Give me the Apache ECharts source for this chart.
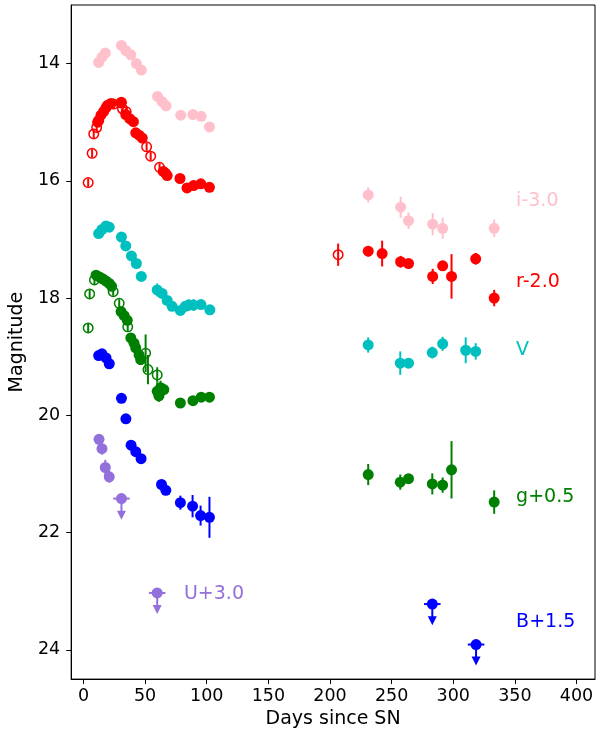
<!DOCTYPE html>
<html>
<head>
<meta charset="utf-8">
<script src="https://cdn.jsdelivr.net/npm/echarts@6/dist/echarts.min.js"></script>
<style>
  html, body { margin: 0; padding: 0; background: #fff; }
  #chart { width: 597px; height: 734px; }
</style>
</head>
<body>
<div id="chart"></div>
<script>
// Light curves: [days since SN, magnitude (offset applied), 1-sigma error]
const iFilled = [
  [12.3, 13.98, 0], [15.0, 13.89, 0], [17.7, 13.82, 0], [30.8, 13.69, 0], [34.4, 13.78, 0],
  [38.4, 13.85, 0], [42.9, 14.00, 0], [46.9, 14.11, 0], [60.1, 14.56, 0], [63.8, 14.65, 0],
  [67.0, 14.72, 0], [78.9, 14.88, 0], [88.8, 14.87, 0], [95.5, 14.90, 0], [102.2, 15.08, 0],
  [231.0, 16.24, 0.13], [257.3, 16.45, 0.18], [263.7, 16.68, 0.14], [283.3, 16.74, 0.19],
  [291.4, 16.81, 0.18], [333.2, 16.81, 0.15]
];
const rOpen = [
  [3.8, 16.03, 0.07], [7.0, 15.53, 0.07], [8.3, 15.20, 0.07], [10.7, 15.09, 0.07],
  [24.4, 14.69, 0.07], [30.3, 14.67, 0.07], [31.6, 14.77, 0.07], [34.6, 14.82, 0.07],
  [51.2, 15.42, 0.07], [54.5, 15.58, 0.07], [61.7, 15.77, 0.07], [66.5, 15.87, 0.07],
  [206.6, 17.26, 0.19]
];
const rFilled = [
  [11.5, 15.00, 0], [12.3, 14.97, 0], [14.2, 14.88, 0], [16.3, 14.82, 0], [18.3, 14.75, 0],
  [19.6, 14.71, 0], [22.3, 14.68, 0], [30.8, 14.66, 0], [34.3, 14.87, 0], [37.5, 14.94, 0],
  [40.5, 14.99, 0], [42.4, 15.18, 0], [45.1, 15.22, 0], [47.7, 15.27, 0], [64.7, 15.84, 0],
  [67.9, 15.91, 0], [78.3, 15.96, 0], [84.0, 16.12, 0], [89.3, 16.08, 0], [95.2, 16.05, 0],
  [102.2, 16.11, 0],
  [231.0, 17.20, 0.09], [242.3, 17.24, 0.22], [257.3, 17.38, 0.10], [263.7, 17.41, 0.05],
  [283.3, 17.63, 0.13], [291.4, 17.45, 0.05], [298.6, 17.63, 0.38], [318.2, 17.33, 0.10],
  [333.2, 18.00, 0.14]
];
const vFilled = [
  [12.3, 16.90, 0], [15.0, 16.83, 0], [18.3, 16.77, 0], [20.9, 16.79, 0], [30.8, 16.96, 0],
  [34.3, 17.11, 0], [38.9, 17.28, 0], [42.9, 17.41, 0], [46.9, 17.63, 0], [59.8, 17.86, 0.11],
  [63.8, 17.92, 0], [67.9, 18.04, 0], [71.9, 18.14, 0], [78.6, 18.21, 0], [82.6, 18.14, 0],
  [85.3, 18.12, 0.10], [89.3, 18.12, 0.10], [95.3, 18.11, 0], [102.5, 18.20, 0],
  [231.0, 18.80, 0.13], [257.0, 19.11, 0.20], [263.7, 19.11, 0.05], [283.0, 18.93, 0.10],
  [291.4, 18.78, 0.12], [310.1, 18.89, 0.22], [318.2, 18.91, 0.14]
];
const gOpen = [
  [3.8, 18.51, 0.07], [5.0, 17.93, 0.07], [8.9, 17.69, 0.07], [24.1, 17.89, 0.07],
  [29.0, 18.09, 0.07], [35.9, 18.49, 0.07], [50.4, 18.94, 0.32], [52.3, 19.22, 0.25],
  [59.8, 19.31, 0.13]
];
const gFilled = [
  [10.2, 17.61, 0], [12.9, 17.64, 0], [15.5, 17.67, 0], [18.3, 17.71, 0], [20.9, 17.75, 0],
  [22.8, 17.80, 0], [30.5, 18.23, 0], [33.0, 18.30, 0], [35.5, 18.38, 0], [38.4, 18.68, 0],
  [41.0, 18.77, 0], [42.4, 18.85, 0], [45.1, 18.97, 0], [46.4, 19.05, 0], [59.8, 19.59, 0.15],
  [61.2, 19.67, 0.10], [62.5, 19.53, 0.12], [65.2, 19.56, 0.10], [78.6, 19.79, 0],
  [88.8, 19.75, 0], [95.5, 19.69, 0], [102.2, 19.69, 0],
  [231.0, 21.01, 0.18], [257.0, 21.14, 0.13], [263.7, 21.08, 0.08], [283.0, 21.17, 0.18],
  [291.4, 21.19, 0.13], [298.6, 20.93, 0.49], [333.2, 21.48, 0.20]
];
const bFilled = [
  [12.3, 18.98, 0], [15.0, 18.95, 0], [18.3, 19.02, 0], [20.9, 19.12, 0], [30.8, 19.71, 0],
  [34.4, 20.06, 0], [38.6, 20.51, 0], [42.4, 20.62, 0], [46.7, 20.74, 0], [63.3, 21.18, 0.08],
  [66.8, 21.28, 0.08], [78.6, 21.49, 0.12], [88.5, 21.55, 0.19], [95.0, 21.71, 0.17],
  [102.2, 21.74, 0.35]
];
const bLimits = [[283.0, 23.22], [318.5, 23.91]];
const uFilled = [[12.6, 20.41, 0.09], [15.0, 20.57, 0.10], [17.7, 20.89, 0.13], [20.9, 21.05, 0.10]];
const uLimits = [[30.8, 21.42], [59.8, 23.03]];

// Axis tick labels
const xTicks = [0, 50, 100, 150, 200, 250, 300, 350, 400];
const yTicks = [14, 16, 18, 20, 22, 24];

// Band names and colours
const bandNames = ['i-3.0', 'r-2.0', 'V', 'g+0.5', 'B+1.5', 'U+3.0'];
const bandColors = ['#FFC0CB', '#FF0000', '#00BFBF', '#008000', '#0000FF', '#9370DB'];
// Where each band name is written (days, magnitude)
const bandNameAnchors = [[351, 16.34], [351, 17.72], [351, 18.88], [351, 21.39], [351, 23.53], [81.5, 23.05]];

const FONT = 'DejaVu Sans';
const LIMIT_HALF_WIDTH = 6.7;  // days
const LIMIT_ARROW = 0.36;      // mag

function errorBars(data, color) {
  return {
    type: 'custom', z: 2, data: data, silent: true,
    renderItem: function (params, api) {
      const x = api.value(0), y = api.value(1), e = api.value(2);
      if (!e) return null;
      const a = api.coord([x, y - e]), b = api.coord([x, y + e]);
      return { type: 'line', shape: { x1: a[0], y1: a[1], x2: b[0], y2: b[1] },
               style: { stroke: color, lineWidth: 2 } };
    }
  };
}
function filled(data, color) {
  return { type: 'scatter', z: 3, data: data, symbol: 'circle', symbolSize: 11, silent: true,
           itemStyle: { color: color, opacity: 1 } };
}
function hollow(data, color) {
  return { type: 'scatter', z: 3, data: data, symbol: 'circle', symbolSize: 9.5, silent: true,
           itemStyle: { color: 'rgba(255,255,255,0)', borderColor: color, borderWidth: 1.5, opacity: 1 } };
}
function limits(data, color) {
  return {
    type: 'custom', z: 3, data: data, silent: true,
    renderItem: function (params, api) {
      const x = api.value(0), y = api.value(1);
      const p = api.coord([x, y]);
      const l = api.coord([x - LIMIT_HALF_WIDTH, y]), r = api.coord([x + LIMIT_HALF_WIDTH, y]);
      const tip = api.coord([x, y + LIMIT_ARROW]);
      const head = 9, hw = 4.5;
      return {
        type: 'group',
        children: [
          { type: 'line', shape: { x1: l[0], y1: l[1], x2: r[0], y2: r[1] }, style: { stroke: color, lineWidth: 2 } },
          { type: 'line', shape: { x1: p[0], y1: p[1], x2: tip[0], y2: tip[1] - head + 1 }, style: { stroke: color, lineWidth: 2 } },
          { type: 'polygon', shape: { points: [[tip[0] - hw, tip[1] - head], [tip[0] + hw, tip[1] - head], [tip[0], tip[1]]] },
            style: { fill: color } },
          { type: 'circle', shape: { cx: p[0], cy: p[1], r: 5.5 }, style: { fill: color } }
        ]
      };
    }
  };
}

const series = [
  errorBars(iFilled, bandColors[0]), filled(iFilled, bandColors[0]),
  errorBars(rOpen, bandColors[1]), errorBars(rFilled, bandColors[1]),
  hollow(rOpen, bandColors[1]), filled(rFilled, bandColors[1]),
  errorBars(vFilled, bandColors[2]), filled(vFilled, bandColors[2]),
  errorBars(gOpen, bandColors[3]), errorBars(gFilled, bandColors[3]),
  hollow(gOpen, bandColors[3]), filled(gFilled, bandColors[3]),
  errorBars(bFilled, bandColors[4]), filled(bFilled, bandColors[4]), limits(bLimits, bandColors[4]),
  errorBars(uFilled, bandColors[5]), filled(uFilled, bandColors[5]), limits(uLimits, bandColors[5]),
  {
    type: 'custom', z: 4, silent: true,
    data: bandNameAnchors.map(function (a, i) { return [a[0], a[1], i]; }),
    renderItem: function (params, api) {
      const i = api.value(2);
      const p = api.coord([api.value(0), api.value(1)]);
      return { type: 'text', x: p[0], y: p[1],
               style: { text: bandNames[i], fill: bandColors[i], fontFamily: FONT, fontSize: 19,
                        align: 'left', verticalAlign: 'middle' } };
    }
  }
];

const chart = echarts.init(document.getElementById('chart'), null, { renderer: 'canvas' });
chart.setOption({
  animation: false,
  backgroundColor: '#ffffff',
  grid: { left: 67, right: 2, top: 5, bottom: 54, show: true, borderColor: '#000', borderWidth: 1 },
  xAxis: {
    type: 'value', min: -10, max: 415,
    name: 'Days since SN', nameLocation: 'middle', nameGap: 30,
    nameTextStyle: { fontFamily: FONT, fontSize: 19, color: '#000' },
    axisLine: { show: true, onZero: false, lineStyle: { color: '#000', width: 1 } },
    axisTick: { show: true, length: 5, customValues: xTicks, lineStyle: { color: '#000' } },
    axisLabel: { customValues: xTicks, margin: 8, fontFamily: FONT, fontSize: 17.5, color: '#000' },
    splitLine: { show: false }
  },
  yAxis: {
    type: 'value', inverse: true, min: 13.0, max: 24.5,
    name: 'Magnitude', nameLocation: 'middle', nameGap: 35,
    nameTextStyle: { fontFamily: FONT, fontSize: 19, color: '#000' },
    axisLine: { show: true, onZero: false, lineStyle: { color: '#000', width: 1 } },
    axisTick: { show: true, length: 5, customValues: yTicks, lineStyle: { color: '#000' } },
    axisLabel: { customValues: yTicks, margin: 11, fontFamily: FONT, fontSize: 17.5, color: '#000' },
    splitLine: { show: false }
  },
  series: series
});
</script>
</body>
</html>
